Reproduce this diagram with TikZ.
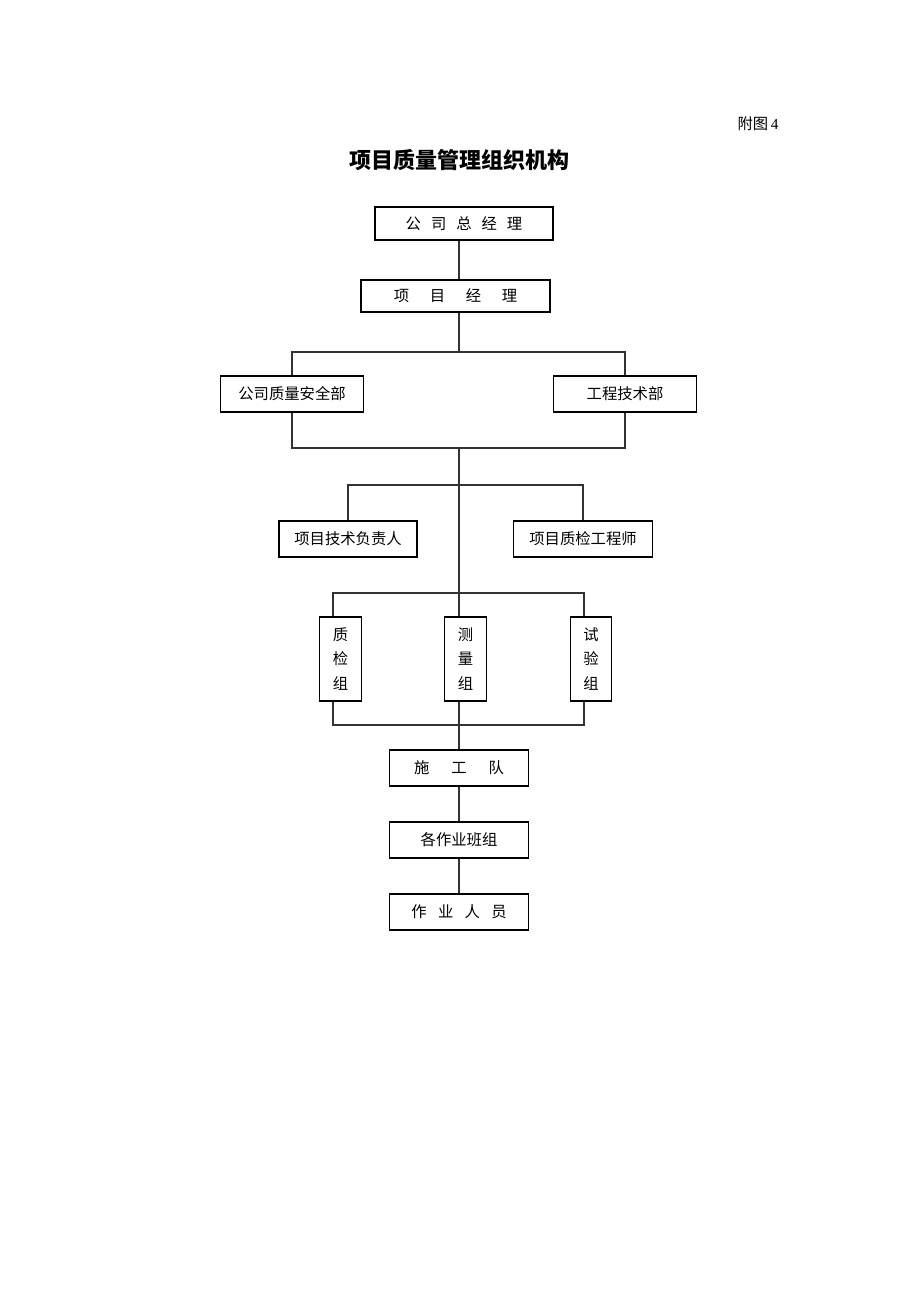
\documentclass[tikz,border=0pt]{standalone}
\usepackage{fontspec}
\newfontfamily\cjk{Noto Sans CJK SC}
\setmainfont{Liberation Serif}
\tikzset{
  orgbox/.style={draw,line width=0.8pt,fill=white,inner sep=0pt,font=\cjk\fontsize{11.5}{13}\selectfont},
  colbox/.style={orgbox,align=center,minimum width=31pt,minimum height=63pt,font=\cjk\fontsize{11.5}{18.4}\selectfont},
  link/.style={line width=0.8pt,draw=black!80}
}
\begin{document}
\begin{tikzpicture}[x=0.75pt,y=-0.75pt]
  \useasboundingbox (0,0) rectangle (920,1302);
  % title
  \node (fig) at (758,124) {\cjk\fontsize{11.5}{13}\selectfont 附图\,\rmfamily 4};
  \node (title) at (459,160) {\cjk\bfseries\fontsize{16.5}{18}\selectfont 项目质量管理组织机构};
  % boxes
  \node[orgbox,minimum width=133.5pt,minimum height=24.75pt] (zjl) at (464,223.5)
    {公\hspace{7.5pt}司\hspace{7.5pt}总\hspace{7.5pt}经\hspace{7.5pt}理};
  \node[orgbox,minimum width=141.75pt,minimum height=24pt] (xmjl) at (455.5,296)
    {项\hspace{15.5pt}目\hspace{15.5pt}经\hspace{15.5pt}理};
  \node[orgbox,minimum width=107.25pt,minimum height=27pt] (zlaq) at (292,394) {公司质量安全部};
  \node[orgbox,minimum width=107.25pt,minimum height=27pt] (gcjs) at (625,394) {工程技术部};
  \node[orgbox,minimum width=103.5pt,minimum height=27pt] (jsfz) at (348,539) {项目技术负责人};
  \node[orgbox,minimum width=104.25pt,minimum height=27pt] (zjgc) at (583,539) {项目质检工程师};
  \node[colbox] (zjz) at (340.5,659) {质\\检\\组};
  \node[colbox] (clz) at (465.5,659) {测\\量\\组};
  \node[colbox] (syz) at (591,659) {试\\验\\组};
  \node[orgbox,minimum width=104.25pt,minimum height=27pt] (sgd) at (459,768)
    {施\hspace{16.5pt}工\hspace{16.5pt}队};
  \node[orgbox,minimum width=104.25pt,minimum height=27pt] (bzz) at (459,840) {各作业班组};
  \node[orgbox,minimum width=104.25pt,minimum height=27pt] (zyry) at (459,912)
    {作\hspace{8.5pt}业\hspace{8.5pt}人\hspace{8.5pt}员};
  % bus points
  \coordinate (bus1) at (459,352);
  \coordinate (bus2) at (459,448);
  \coordinate (bus3) at (459,485);
  \coordinate (lft) at (333,593);
  \coordinate (rgt) at (584,593);
  \coordinate (lft2) at (333,725);
  \coordinate (rgt2) at (584,725);
  % connectors
  \draw[link] (zjl.south -| bus1) -- (xmjl.north -| bus1);
  \draw[link] (xmjl.south -| bus1) -- (bus1);
  \draw[link] (zlaq.north) |- (bus1) -| (gcjs.north);
  \draw[link] (zlaq.south) |- (bus2) -| (gcjs.south);
  \draw[link] (bus2) -- (clz.north -| bus2);
  \draw[link] (jsfz.north) |- (bus3) -| (zjgc.north);
  \draw[link] (zjz.north -| lft) -- (lft) -- (rgt) -- (syz.north -| rgt);
  \draw[link] (zjz.south -| lft) -- (lft2) -- (rgt2) -- (syz.south -| rgt);
  \draw[link] (clz.south -| bus2) -- (sgd.north -| bus2);
  \draw[link] (sgd) -- (bzz);
  \draw[link] (bzz) -- (zyry);
\end{tikzpicture}
\end{document}
